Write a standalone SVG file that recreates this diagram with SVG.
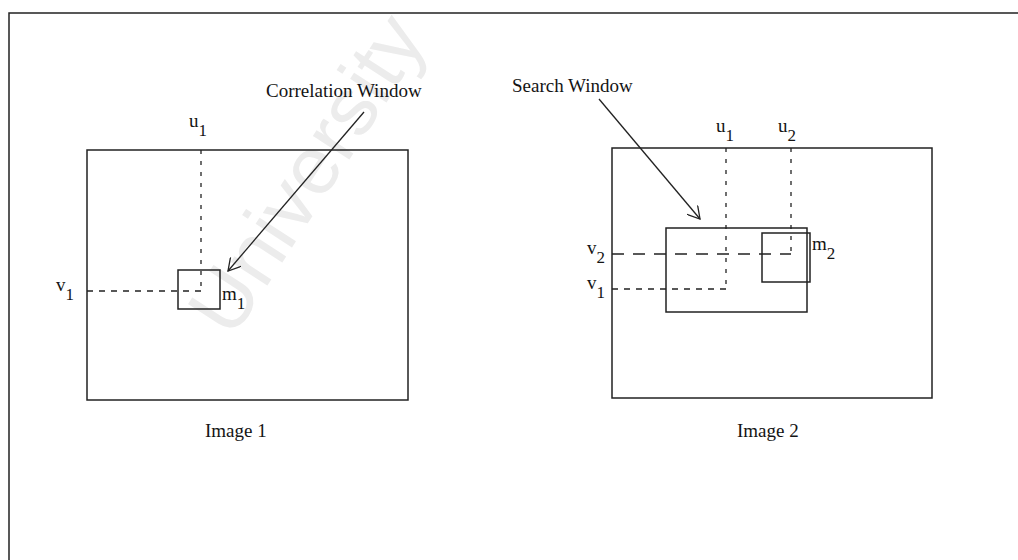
<svg xmlns="http://www.w3.org/2000/svg" width="1018" height="560" viewBox="0 0 1018 560">
<style>
.frame{fill:none;stroke:#222;stroke-width:1.5}
.dash{fill:none;stroke:#222;stroke-width:1.3;stroke-dasharray:6 6}
.dashv{fill:none;stroke:#222;stroke-width:1.3;stroke-dasharray:4 7}
.lead{fill:none;stroke:#222;stroke-width:1.3}
.lbl{font-family:"Liberation Serif","Times New Roman",serif;font-size:19px;fill:#141414}
.sub{font-size:17px}
.wm{font-family:"Liberation Sans",Arial,sans-serif;font-size:82px;fill:#ececec}
</style>
<defs>
<marker id="arr" viewBox="0 0 14 14" refX="13" refY="7" markerWidth="14" markerHeight="14" markerUnits="userSpaceOnUse" orient="auto">
<path d="M1,0 L13,7 L1,14" fill="none" stroke="#222" stroke-width="1.3"/>
</marker>
</defs>
<rect width="1018" height="560" fill="#ffffff"/>
<text class="wm" x="232" y="340" transform="rotate(-57 232 340)">University</text>
<g id="frame">
<path class="frame" d="M9,560 L9,13 L1018,13"/>
</g>
<g id="image1">
<rect class="frame" x="87" y="150" width="321" height="250"/>
<text class="lbl" x="205" y="437">Image 1</text>
</g>
<g id="corr-window">
<rect class="frame" x="178" y="270" width="42" height="39"/>
<text class="lbl" x="222" y="300">m<tspan class="sub" dy="9">1</tspan></text>
</g>
<g id="image1-axes">
<line class="dashv" x1="201" y1="150" x2="201" y2="291"/>
<line class="dash" x1="87" y1="291" x2="201" y2="291"/>
<text class="lbl" x="189" y="127">u<tspan class="sub" dy="9">1</tspan></text>
<text class="lbl" x="56" y="291">v<tspan class="sub" dy="9">1</tspan></text>
</g>
<g id="image2">
<rect class="frame" x="612" y="148" width="320" height="250"/>
<text class="lbl" x="737" y="437">Image 2</text>
</g>
<g id="search-window">
<rect class="frame" x="666" y="228" width="141" height="84"/>
</g>
<g id="match-window">
<rect class="frame" x="762" y="233" width="48" height="49"/>
<text class="lbl" x="812" y="250">m<tspan class="sub" dy="9">2</tspan></text>
</g>
<g id="image2-axes">
<line class="dashv" x1="726" y1="148" x2="726" y2="289"/>
<line class="dash" x1="612" y1="289" x2="726" y2="289"/>
<line class="dashv" x1="791" y1="148" x2="791" y2="254"/>
<line class="dash" style="stroke-dasharray:12 9" x1="612" y1="254" x2="791" y2="254"/>
<text class="lbl" x="716" y="132">u<tspan class="sub" dy="9">1</tspan></text>
<text class="lbl" x="778" y="132">u<tspan class="sub" dy="9">2</tspan></text>
<text class="lbl" x="587" y="254">v<tspan class="sub" dy="9">2</tspan></text>
<text class="lbl" x="587" y="289">v<tspan class="sub" dy="9">1</tspan></text>
</g>
<g id="callouts">
<text class="lbl" x="266" y="97">Correlation Window</text>
<text class="lbl" x="512" y="92">Search Window</text>
</g>
<g id="connectors">
<line class="lead" x1="364" y1="112" x2="228" y2="271" marker-end="url(#arr)"/>
<line class="lead" x1="599" y1="99" x2="700" y2="219" marker-end="url(#arr)"/>
</g>
</svg>
